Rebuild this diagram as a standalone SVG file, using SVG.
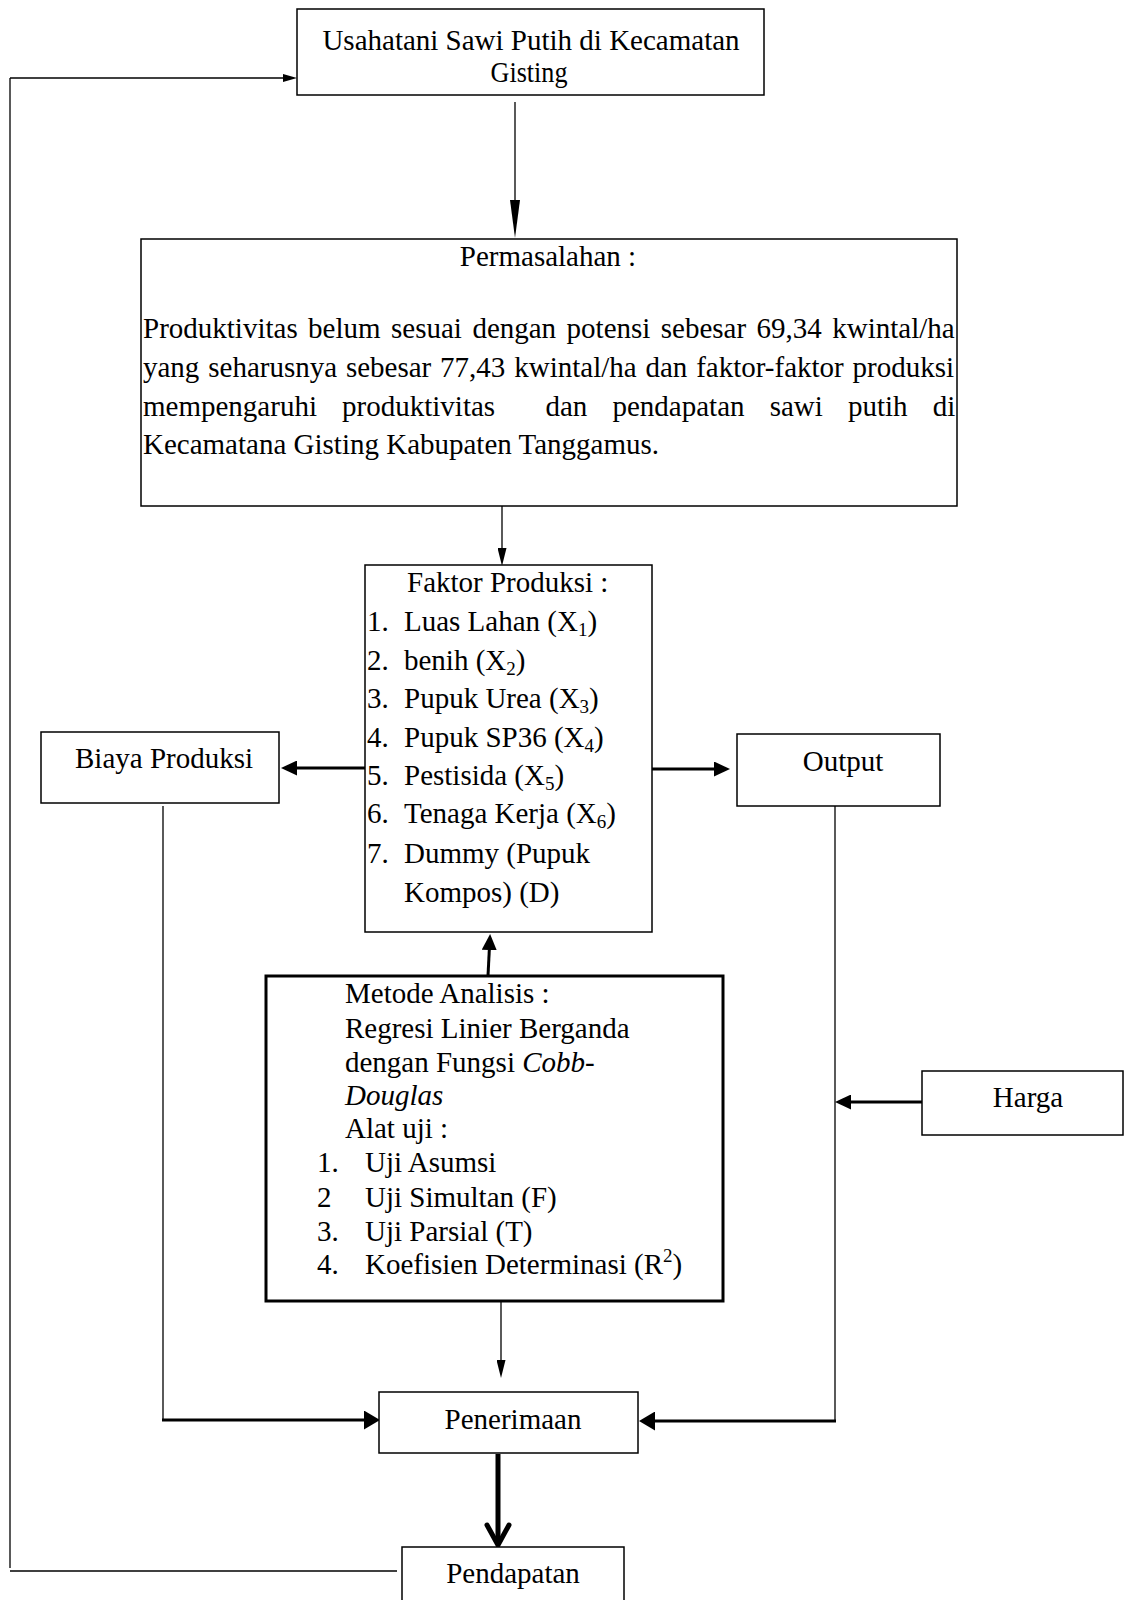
<svg xmlns="http://www.w3.org/2000/svg" width="1125" height="1600" viewBox="0 0 1125 1600">
<style>
text{font-family:"Liberation Serif","Times New Roman",serif;font-size:29px;fill:#000}
.c{text-anchor:middle}
.box{fill:#fff;stroke:#000;stroke-width:1.5}
.thin{fill:none;stroke:#000;stroke-width:1.3}
.bold{fill:none;stroke:#000;stroke-width:3}
.sub{font-size:19px}
</style>
<defs>
<marker id="mLong" markerUnits="userSpaceOnUse" markerWidth="38" markerHeight="10" refX="0" refY="5" orient="auto"><path d="M0,0 L38,5 L0,10 z" fill="#000"/></marker>
<marker id="mThin" markerUnits="userSpaceOnUse" markerWidth="18" markerHeight="9" refX="0" refY="4.5" orient="auto"><path d="M0,0 L18,4.5 L0,9 z" fill="#000"/></marker>
<marker id="mSmall" markerUnits="userSpaceOnUse" markerWidth="14" markerHeight="8" refX="0" refY="4" orient="auto"><path d="M0,0 L14,4 L0,8 z" fill="#000"/></marker>
<marker id="mBold" markerUnits="userSpaceOnUse" markerWidth="16" markerHeight="15" refX="0" refY="7.5" orient="auto"><path d="M0,0 L16,7.5 L0,15 z" fill="#000"/></marker>
<marker id="mBold2" markerUnits="userSpaceOnUse" markerWidth="16" markerHeight="19" refX="0" refY="9.5" orient="auto"><path d="M0,0 L16,9.5 L0,19 z" fill="#000"/></marker>
</defs>

<g id="connectors">
<line class="thin" x1="10" y1="78" x2="10" y2="1568"/>
<line class="thin" x1="10" y1="78" x2="283" y2="78" marker-end="url(#mSmall)"/>
<line class="thin" x1="10" y1="1571" x2="397" y2="1571"/>
<line class="thin" x1="515" y1="102" x2="515" y2="200" marker-end="url(#mLong)"/>
<line class="thin" x1="502" y1="506" x2="502" y2="548" marker-end="url(#mThin)"/>
<line class="bold" x1="365" y1="768" x2="297" y2="768" marker-end="url(#mBold)"/>
<line class="bold" x1="652" y1="769" x2="714" y2="769" marker-end="url(#mBold)"/>
<line class="thin" x1="835" y1="806" x2="835" y2="1422"/>
<line class="bold" x1="922" y1="1102" x2="851" y2="1102" marker-end="url(#mBold)"/>
<line class="bold" x1="836" y1="1421" x2="655" y2="1421" marker-end="url(#mBold2)"/>
<line class="thin" x1="163" y1="806" x2="163" y2="1421"/>
<line class="bold" x1="162" y1="1420" x2="364" y2="1420" marker-end="url(#mBold2)"/>
<line class="bold" x1="488" y1="976" x2="489.3" y2="950" marker-end="url(#mBold)"/>
<line class="thin" x1="501" y1="1302" x2="501" y2="1360" marker-end="url(#mThin)"/>
<line fill="none" stroke="#000" stroke-width="5" x1="498" y1="1454" x2="498" y2="1543"/>
<polyline fill="none" stroke="#000" stroke-width="5" stroke-linecap="round" stroke-linejoin="miter" points="487,1525 498,1545 509,1525"/>
</g>

<g id="usahatani">
<rect class="box" x="297" y="9" width="467" height="86"/>
<text class="c" x="531" y="50">Usahatani Sawi Putih di Kecamatan</text>
<text class="c" x="529" y="82" textLength="77" lengthAdjust="spacingAndGlyphs">Gisting</text>
</g>

<g id="permasalahan">
<rect class="box" x="141" y="239" width="816" height="267"/>
<text class="c" x="548" y="266">Permasalahan :</text>
<text x="143" y="338" word-spacing="3.2">Produktivitas belum sesuai dengan potensi sebesar 69,34 kwintal/ha</text>
<text x="143" y="377" word-spacing="1.6">yang seharusnya sebesar 77,43 kwintal/ha dan faktor-faktor produksi</text>
<text x="143" y="416" word-spacing="17.9" style="white-space:pre">mempengaruhi produktivitas  dan pendapatan sawi putih di</text>
<text x="143" y="454">Kecamatana Gisting Kabupaten Tanggamus.</text>
</g>

<g id="faktor">
<rect class="box" x="365" y="565" width="287" height="367"/>
<text x="407" y="592">Faktor Produksi :</text>
<text x="367" y="631">1.</text><text x="404" y="631">Luas Lahan (X<tspan class="sub" dy="5">1</tspan><tspan dy="-5">)</tspan></text>
<text x="367" y="670">2.</text><text x="404" y="670">benih (X<tspan class="sub" dy="5">2</tspan><tspan dy="-5">)</tspan></text>
<text x="367" y="708">3.</text><text x="404" y="708">Pupuk Urea (X<tspan class="sub" dy="5">3</tspan><tspan dy="-5">)</tspan></text>
<text x="367" y="747">4.</text><text x="404" y="747">Pupuk SP36 (X<tspan class="sub" dy="5">4</tspan><tspan dy="-5">)</tspan></text>
<text x="367" y="785">5.</text><text x="404" y="785">Pestisida (X<tspan class="sub" dy="5">5</tspan><tspan dy="-5">)</tspan></text>
<text x="367" y="823">6.</text><text x="404" y="823">Tenaga Kerja (X<tspan class="sub" dy="5">6</tspan><tspan dy="-5">)</tspan></text>
<text x="367" y="863">7.</text><text x="404" y="863">Dummy (Pupuk</text>
<text x="404" y="902">Kompos) (D)</text>
</g>

<g id="biaya">
<rect class="box" x="41" y="732" width="238" height="71"/>
<text class="c" x="164" y="768">Biaya Produksi</text>
</g>

<g id="output">
<rect class="box" x="737" y="734" width="203" height="72"/>
<text class="c" x="843" y="771">Output</text>
</g>

<g id="harga">
<rect class="box" x="922" y="1071" width="201" height="64"/>
<text class="c" x="1028" y="1107">Harga</text>
</g>

<g id="metode">
<rect x="266" y="976" width="457" height="325" fill="#fff" stroke="#000" stroke-width="3"/>
<text x="345" y="1003">Metode Analisis :</text>
<text x="345" y="1038">Regresi Linier Berganda</text>
<text x="345" y="1072">dengan Fungsi <tspan font-style="italic">Cobb-</tspan></text>
<text x="345" y="1105" font-style="italic">Douglas</text>
<text x="345" y="1138">Alat uji :</text>
<text x="317" y="1172">1.</text><text x="365" y="1172">Uji Asumsi</text>
<text x="317" y="1207">2</text><text x="365" y="1207">Uji Simultan (F)</text>
<text x="317" y="1241">3.</text><text x="365" y="1241">Uji Parsial (T)</text>
<text x="317" y="1274">4.</text><text x="365" y="1274">Koefisien Determinasi (R<tspan class="sub" dy="-12">2</tspan><tspan dy="12">)</tspan></text>
</g>

<g id="penerimaan">
<rect class="box" x="379" y="1392" width="259" height="61"/>
<text class="c" x="513" y="1429">Penerimaan</text>
</g>

<g id="pendapatan">
<rect class="box" x="402" y="1547" width="222" height="60"/>
<text class="c" x="513" y="1583">Pendapatan</text>
</g>
</svg>
